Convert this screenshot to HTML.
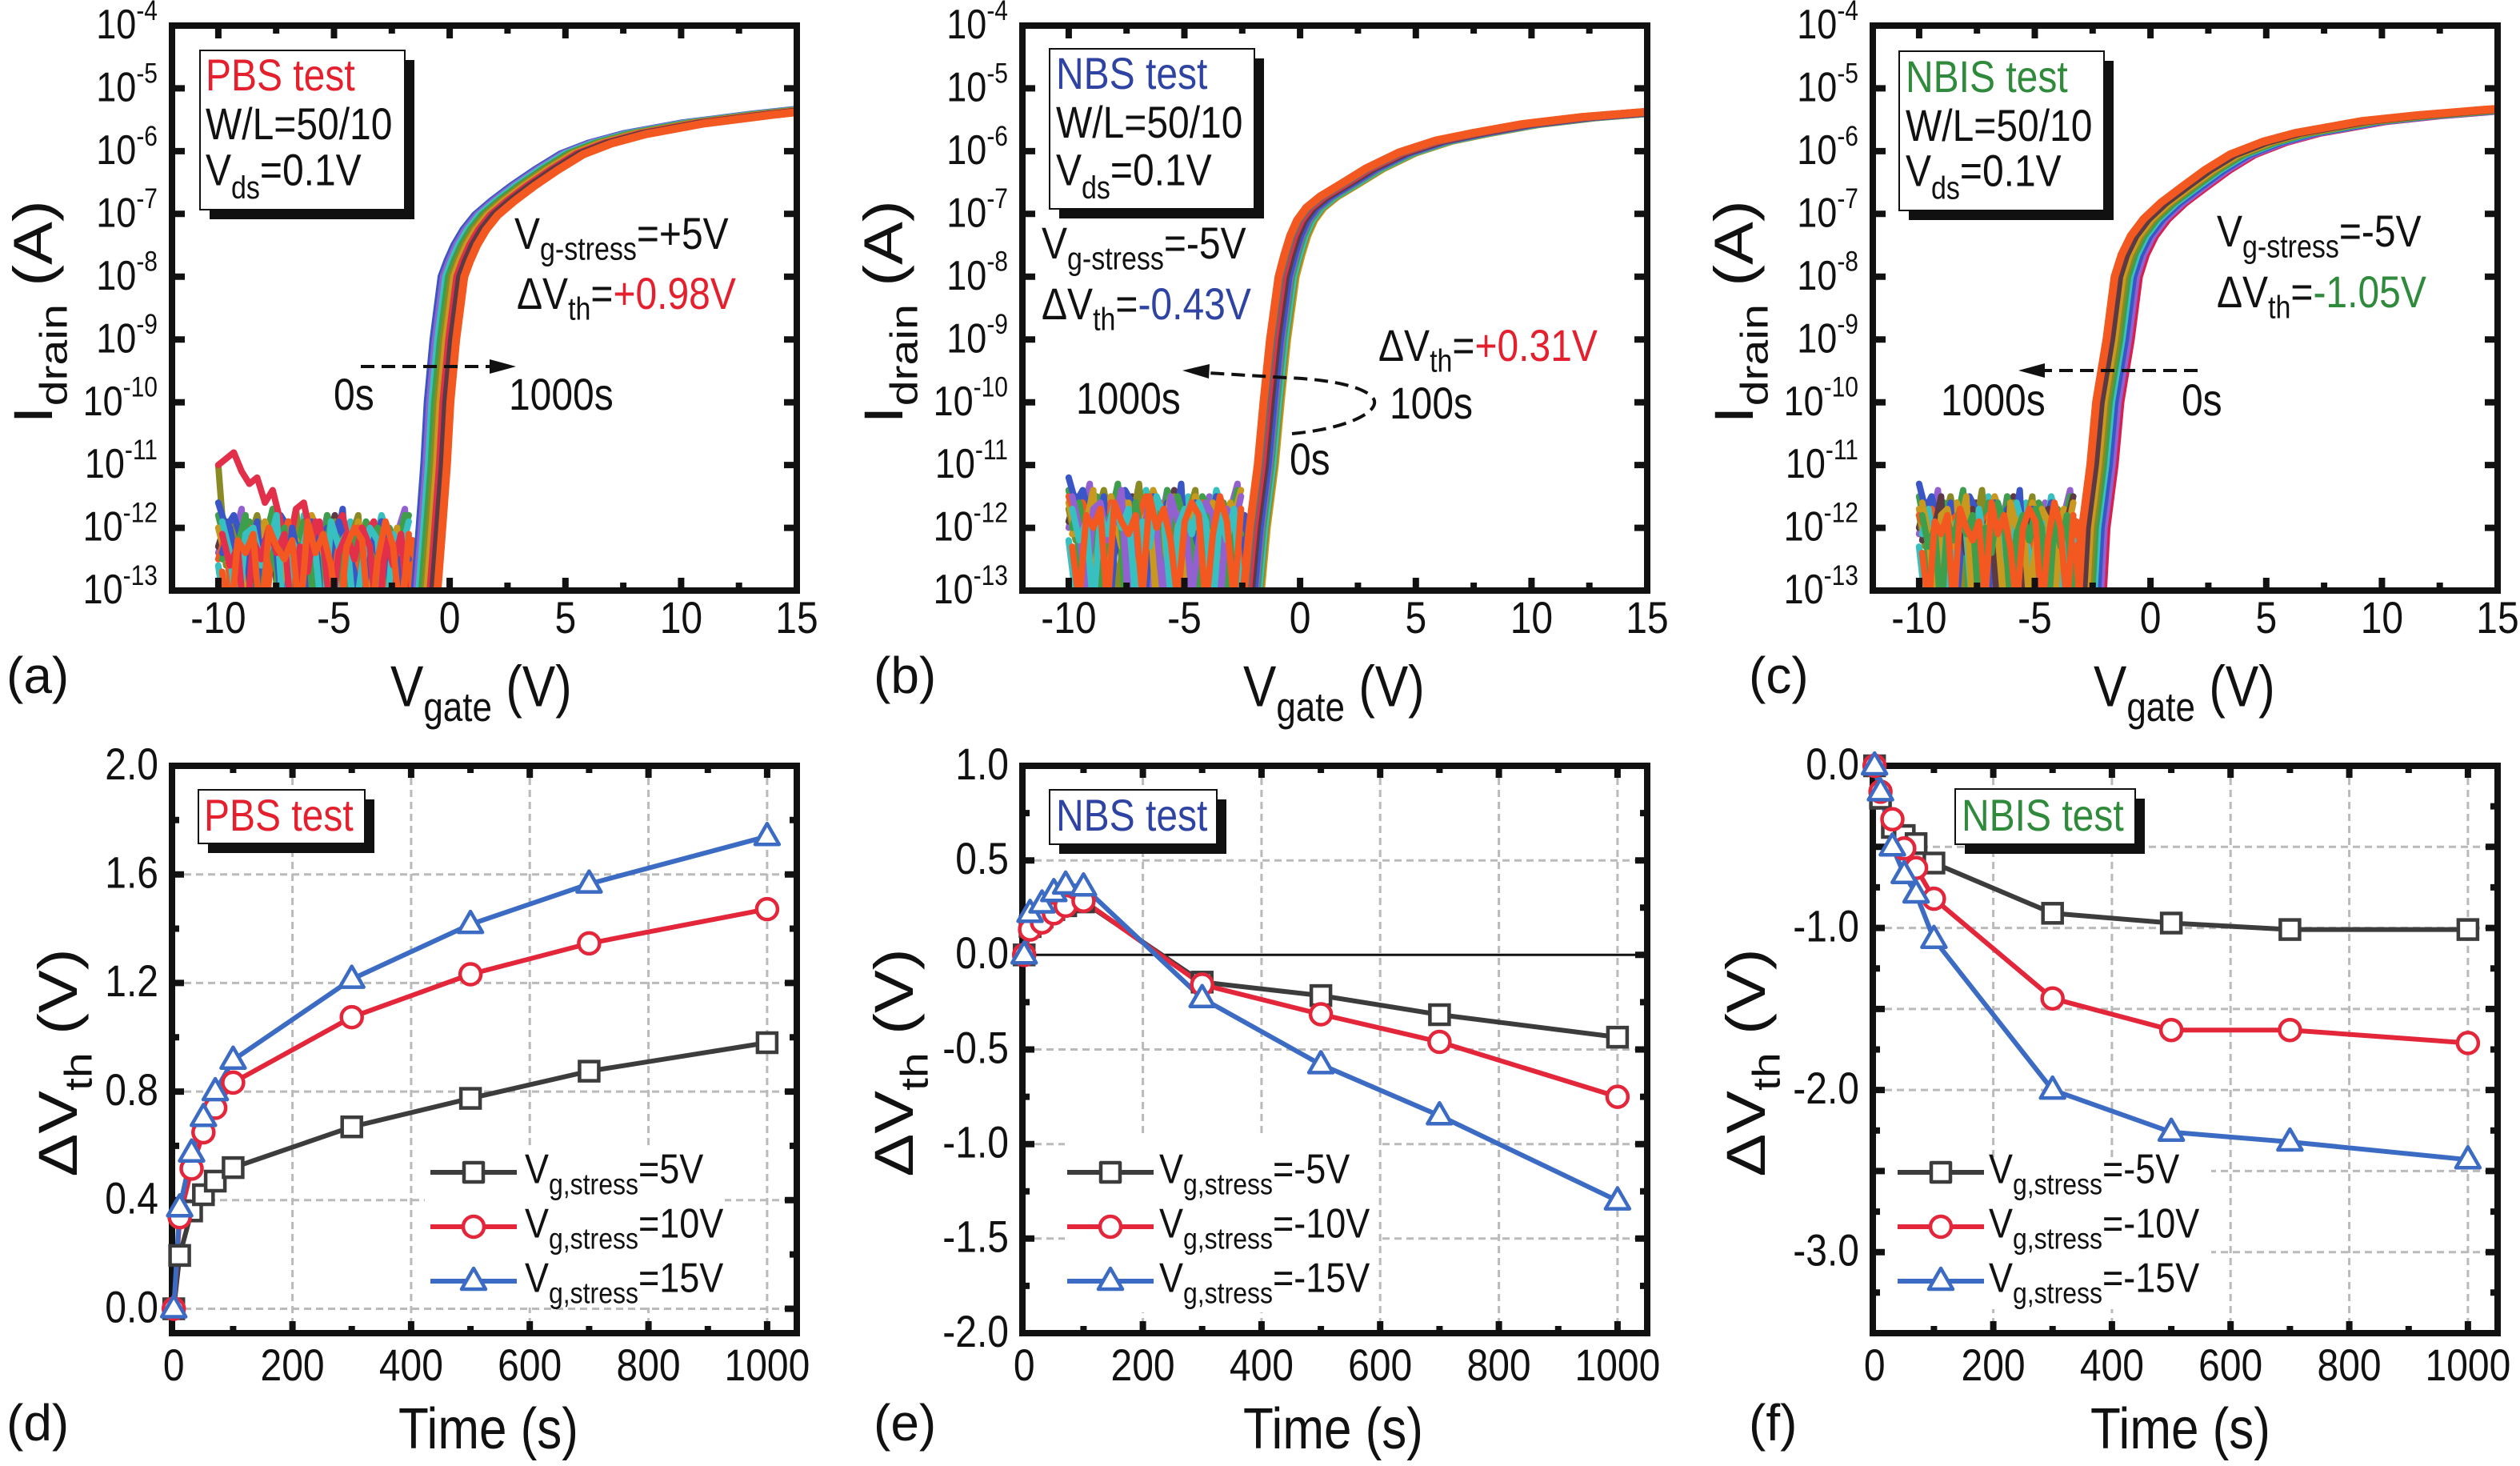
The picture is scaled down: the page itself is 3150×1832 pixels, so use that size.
<!DOCTYPE html>
<html><head><meta charset="utf-8">
<style>
html,body{margin:0;padding:0;background:#fff;}
svg{display:block;}
.d polyline{vector-effect:non-scaling-stroke;}
svg text{transform-box:fill-box;transform-origin:50% 81%;transform:scaleY(1.16);}
svg text.n{transform:none;}
svg text.r{transform-origin:50% 81%;transform:scale(1.3,1.1);}
</style></head>
<body>
<svg width="3150" height="1832" viewBox="0 0 3150 1832" xmlns="http://www.w3.org/2000/svg" font-family="'Liberation Sans', Arial, sans-serif" fill="#111">
<defs>
<clipPath id="ca"><rect x="219" y="36" width="773" height="698"/></clipPath>
<clipPath id="cb"><rect x="1282" y="36" width="773" height="698"/></clipPath>
<clipPath id="cc"><rect x="2345" y="36" width="773" height="698"/></clipPath>
</defs>
<rect width="3150" height="1832" fill="#fff"/>

<!-- ===== TOP ROW DATA ===== -->
<!-- (a) -->
<g clip-path="url(#ca)">
<g class="d" transform="translate(562.1 32) scale(28.926 78.444)" fill="none" stroke-width="8" stroke-linejoin="round" stroke-linecap="round">
 <g transform="translate(-10 0) scale(0.336 1)">
  <polyline stroke="#9361cf" points="0,8.4 1,8.0 2,8.2 3,7.7 4,9.5 5,8.3 6,8.1 7,8.6 8,7.9 9,9.4 10,8.2 11,8.0 12,9.6 13,8.4 14,7.8 15,8.1 16,9.5 17,8.0 18,8.3 19,8.6 20,7.9 21,8.2 22,9.4 23,8.1 24,7.7 25,9.6"/>
  <polyline stroke="#38bfc0" points="0,8.6 1,9.5 2,8.1 3,8.3 4,8.0 5,9.6 6,7.9 7,8.2 8,8.4 9,8.1 10,9.4 11,7.8 12,8.3 13,8.0 14,8.5 15,9.5 16,8.2 17,7.9 18,8.1 19,9.6 20,8.4 21,7.8 22,8.2 23,9.5 24,8.0 25,8.3"/>
  <polyline stroke="#5c3a44" points="0,8.3 1,7.9 2,8.6 3,8.1 4,9.4 5,8.2 6,8.0 7,8.3 8,9.5 9,7.9 10,8.5 11,8.1 12,8.0 13,9.6 14,8.3 15,7.8 16,8.2 17,8.6 18,9.4 19,8.0 20,8.3 21,7.9 22,9.5 23,8.2 24,8.4 25,9.6"/>
  <polyline stroke="#8a8a24" points="0,7.0 1,8.6 2,7.9 3,9.5 4,8.2 5,7.8 6,8.4 7,9.6 8,8.0 9,8.3 10,7.7 11,8.9 12,8.1 13,9.5 14,8.0 15,7.9 16,8.6 17,8.2 18,7.8 19,9.4 20,8.3 21,8.0 22,9.6 23,8.1 24,8.4 25,9.5"/>
  <polyline stroke="#3f9e4b" points="0,7.8 1,8.3 2,9.4 3,8.0 4,7.9 5,8.5 6,8.2 7,7.7 8,9.6 9,8.1 10,8.4 11,7.9 12,8.3 13,9.5 14,7.8 15,8.2 16,8.0 17,9.4 18,8.5 19,7.9 20,8.1 21,9.6 22,8.0 23,8.3 24,7.8 25,9.4"/>
  <polyline stroke="#c9981f" points="0,8.0 1,8.5 2,8.2 3,9.6 4,8.1 5,8.4 6,7.9 7,8.3 8,8.0 9,9.5 10,8.2 11,8.6 12,7.8 13,8.1 14,9.4 15,8.3 16,8.0 17,8.4 18,7.9 19,8.2 20,9.6 21,8.1 22,8.5 23,8.0 24,9.4 25,8.3"/>
  <polyline stroke="#3a55c6" points="0,7.6 1,8.0 2,7.8 3,8.2 4,8.5 5,7.9 6,9.5 7,8.1 8,7.8 9,8.0 10,8.3 11,9.4 12,7.9 13,8.2 14,8.0 15,8.4 16,7.7 17,9.6 18,8.0 19,8.2 20,8.5 21,7.9 22,8.1 23,8.4 24,9.5 25,8.2"/>
  <polyline stroke="#e3304a" points="0,7.0 1,6.9 2,6.8 3,7.1 4,7.3 5,7.2 6,7.6 7,7.4 8,7.9 9,8.4 10,7.7 11,7.6 12,8.2 13,7.9 14,8.7 15,8.0 16,7.8 17,8.4 18,9.5 19,8.1 20,7.9 21,8.6 22,8.2 23,9.4 24,8.3 25,9.6"/>
  <polyline stroke="#f2581f" points="0,8.5 1,8.1 2,9.6 3,8.3 4,8.0 5,8.6 6,9.5 7,8.2 8,8.4 9,7.9 10,9.6 11,8.3 12,8.1 13,8.7 14,9.4 15,8.2 16,8.5 17,9.6 18,8.0 19,8.4 20,8.2 21,9.5 22,8.3 23,8.6 24,9.4 25,8.2"/>
 </g>
 <g transform="translate(-9.832 0.1) scale(0.336 1)">
  <polyline stroke="#3f9e4b" points="0,8.4 1,8.0 2,8.2 3,7.7 4,9.5 5,8.3 6,8.1 7,8.6 8,7.9 9,9.4 10,8.2 11,8.0 12,9.6 13,8.4 14,7.8 15,8.1 16,9.5 17,8.0 18,8.3 19,8.6 20,7.9 21,8.2 22,9.4 23,8.1 24,7.7"/>
  <polyline stroke="#3a55c6" points="0,8.3 1,7.9 2,8.6 3,8.1 4,9.4 5,8.2 6,8.0 7,8.3 8,9.5 9,7.9 10,8.5 11,8.1 12,8.0 13,9.6 14,8.3 15,7.8 16,8.2 17,8.6 18,9.4 19,8.0 20,8.3 21,7.9 22,9.5 23,8.2 24,8.4"/>
  <polyline stroke="#38bfc0" points="0,7.8 1,8.3 2,9.4 3,8.0 4,7.9 5,8.5 6,8.2 7,7.7 8,9.6 9,8.1 10,8.4 11,7.9 12,8.3 13,9.5 14,7.8 15,8.2 16,8.0 17,9.4 18,8.5 19,7.9 20,8.1 21,9.6 22,8.0 23,8.3 24,7.8"/>
  <polyline stroke="#e3304a" points="0,8.0 1,8.5 2,8.2 3,9.6 4,8.1 5,8.4 6,7.9 7,8.3 8,8.0 9,9.5 10,8.2 11,8.6 12,7.8 13,8.1 14,9.4 15,8.3 16,8.0 17,8.4 18,7.9 19,8.2 20,9.6 21,8.1 22,8.5 23,8.0 24,9.4"/>
  <polyline stroke="#f2581f" points="0,8.6 1,9.5 2,8.1 3,8.3 4,8.0 5,9.6 6,7.9 7,8.2 8,8.4 9,8.1 10,9.4 11,7.8 12,8.3 13,8.0 14,8.5 15,9.5 16,8.2 17,7.9 18,8.1 19,9.6 20,8.4 21,7.8 22,8.2 23,9.5 24,8.0"/>
 </g>
 <g stroke-width="10">
 <polyline stroke="#3a55c6" points="-1.6,9.8 -1.55,9.2 -1.3,8 -1.1,7 -0.95,6 -0.7,5 -0.35,4 -0.1,3.75 0.2,3.5 0.6,3.25 1.1,3.02 1.8,2.8 2.7,2.55 3.7,2.3 4.8,2.05 6,1.88 7.5,1.73 10,1.56 13,1.42 15.5,1.32 17,1.28"/>
 <polyline transform="translate(0.1 0)" stroke="#9361cf" points="-1.6,9.8 -1.55,9.2 -1.3,8 -1.1,7 -0.95,6 -0.7,5 -0.35,4 -0.1,3.75 0.2,3.5 0.6,3.25 1.1,3.02 1.8,2.8 2.7,2.55 3.7,2.3 4.8,2.05 6,1.88 7.5,1.73 10,1.56 13,1.42 15.5,1.32 17,1.28"/>
 <polyline transform="translate(0.2 0)" stroke="#38bfc0" points="-1.6,9.8 -1.55,9.2 -1.3,8 -1.1,7 -0.95,6 -0.7,5 -0.35,4 -0.1,3.75 0.2,3.5 0.6,3.25 1.1,3.02 1.8,2.8 2.7,2.55 3.7,2.3 4.8,2.05 6,1.88 7.5,1.73 10,1.56 13,1.42 15.5,1.32 17,1.28"/>
 <polyline transform="translate(0.32 0)" stroke="#3f9e4b" points="-1.6,9.8 -1.55,9.2 -1.3,8 -1.1,7 -0.95,6 -0.7,5 -0.35,4 -0.1,3.75 0.2,3.5 0.6,3.25 1.1,3.02 1.8,2.8 2.7,2.55 3.7,2.3 4.8,2.05 6,1.88 7.5,1.73 10,1.56 13,1.42 15.5,1.32 17,1.28"/>
 <polyline transform="translate(0.45 0)" stroke="#8a8a24" points="-1.6,9.8 -1.55,9.2 -1.3,8 -1.1,7 -0.95,6 -0.7,5 -0.35,4 -0.1,3.75 0.2,3.5 0.6,3.25 1.1,3.02 1.8,2.8 2.7,2.55 3.7,2.3 4.8,2.05 6,1.88 7.5,1.73 10,1.56 13,1.42 15.5,1.32 17,1.28"/>
 <polyline transform="translate(0.55 0)" stroke="#c9981f" points="-1.6,9.8 -1.55,9.2 -1.3,8 -1.1,7 -0.95,6 -0.7,5 -0.35,4 -0.1,3.75 0.2,3.5 0.6,3.25 1.1,3.02 1.8,2.8 2.7,2.55 3.7,2.3 4.8,2.05 6,1.88 7.5,1.73 10,1.56 13,1.42 15.5,1.32 17,1.28"/>
 <polyline transform="translate(0.68 0)" stroke="#e3304a" points="-1.6,9.8 -1.55,9.2 -1.3,8 -1.1,7 -0.95,6 -0.7,5 -0.35,4 -0.1,3.75 0.2,3.5 0.6,3.25 1.1,3.02 1.8,2.8 2.7,2.55 3.7,2.3 4.8,2.05 6,1.88 7.5,1.73 10,1.56 13,1.42 15.5,1.32 17,1.28"/>
 <polyline transform="translate(0.8 0)" stroke="#5c3a44" points="-1.6,9.8 -1.55,9.2 -1.3,8 -1.1,7 -0.95,6 -0.7,5 -0.35,4 -0.1,3.75 0.2,3.5 0.6,3.25 1.1,3.02 1.8,2.8 2.7,2.55 3.7,2.3 4.8,2.05 6,1.88 7.5,1.73 10,1.56 13,1.42 15.5,1.32 17,1.28"/>
 <polyline transform="translate(0.98 0)" stroke="#f2581f" points="-1.6,9.8 -1.55,9.2 -1.3,8 -1.1,7 -0.95,6 -0.7,5 -0.35,4 -0.1,3.75 0.2,3.5 0.6,3.25 1.1,3.02 1.8,2.8 2.7,2.55 3.7,2.3 4.8,2.05 6,1.88 7.5,1.73 10,1.56 13,1.42 15.5,1.32 17,1.28"/>
 </g>
</g></g>

<!-- (b) -->
<g clip-path="url(#cb)">
<g class="d" transform="translate(1625.1 32) scale(28.926 78.444)" fill="none" stroke-width="8" stroke-linejoin="round" stroke-linecap="round">
 <g transform="translate(-10 -0.4) scale(0.304 1)">
  <polyline stroke="#9361cf" points="0,8.4 1,8.0 2,8.2 3,7.7 4,9.5 5,8.3 6,8.1 7,8.6 8,7.9 9,9.4 10,8.2 11,8.0 12,9.6 13,8.4 14,7.8 15,8.1 16,9.5 17,8.0 18,8.3 19,8.6 20,7.9 21,8.2 22,9.4 23,8.1 24,7.7 25,9.6"/>
  <polyline stroke="#38bfc0" points="0,8.6 1,9.5 2,8.1 3,8.3 4,8.0 5,9.6 6,7.9 7,8.2 8,8.4 9,8.1 10,9.4 11,7.8 12,8.3 13,8.0 14,8.5 15,9.5 16,8.2 17,7.9 18,8.1 19,9.6 20,8.4 21,7.8 22,8.2 23,9.5 24,8.0 25,8.3"/>
  <polyline stroke="#5c3a44" points="0,8.3 1,7.9 2,8.6 3,8.1 4,9.4 5,8.2 6,8.0 7,8.3 8,9.5 9,7.9 10,8.5 11,8.1 12,8.0 13,9.6 14,8.3 15,7.8 16,8.2 17,8.6 18,9.4 19,8.0 20,8.3 21,7.9 22,9.5 23,8.2 24,8.4 25,9.6"/>
  <polyline stroke="#8a8a24" points="0,8.1 1,8.6 2,7.9 3,9.5 4,8.2 5,7.8 6,8.4 7,9.6 8,8.0 9,8.3 10,7.7 11,8.9 12,8.1 13,9.5 14,8.0 15,7.9 16,8.6 17,8.2 18,7.8 19,9.4 20,8.3 21,8.0 22,9.6 23,8.1 24,8.4 25,9.5"/>
  <polyline stroke="#3f9e4b" points="0,7.8 1,8.3 2,9.4 3,8.0 4,7.9 5,8.5 6,8.2 7,7.7 8,9.6 9,8.1 10,8.4 11,7.9 12,8.3 13,9.5 14,7.8 15,8.2 16,8.0 17,9.4 18,8.5 19,7.9 20,8.1 21,9.6 22,8.0 23,8.3 24,7.8 25,9.4"/>
  <polyline stroke="#c9981f" points="0,8.0 1,8.5 2,8.2 3,9.6 4,8.1 5,8.4 6,7.9 7,8.3 8,8.0 9,9.5 10,8.2 11,8.6 12,7.8 13,8.1 14,9.4 15,8.3 16,8.0 17,8.4 18,7.9 19,8.2 20,9.6 21,8.1 22,8.5 23,8.0 24,9.4 25,8.3"/>
  <polyline stroke="#3a55c6" points="0,7.6 1,8.0 2,7.8 3,8.2 4,8.5 5,7.9 6,9.5 7,8.1 8,7.8 9,8.0 10,8.3 11,9.4 12,7.9 13,8.2 14,8.0 15,8.4 16,7.7 17,9.6 18,8.0 19,8.2 20,8.5 21,7.9 22,8.1 23,8.4 24,9.5 25,8.2"/>
  <polyline stroke="#f2581f" points="0,7.9 1,8.2 2,8.0 3,8.4 4,8.1 5,9.6 6,8.0 7,8.3 8,8.1 9,9.5 10,8.2 11,7.9 12,8.3 13,8.0 14,9.6 15,8.2 16,8.1 17,8.4 18,9.5 19,8.0 20,8.2 21,8.1 22,9.4 23,8.3 24,8.6 25,9.6"/>
 </g>
 <g transform="translate(-9.848 -0.3) scale(0.304 1)">
  <polyline stroke="#c9981f" points="0,8.4 1,8.0 2,8.2 3,7.7 4,9.5 5,8.3 6,8.1 7,8.6 8,7.9 9,9.4 10,8.2 11,8.0 12,9.6 13,8.4 14,7.8 15,8.1 16,9.5 17,8.0 18,8.3 19,8.6 20,7.9 21,8.2 22,9.4 23,8.1 24,7.7"/>
  <polyline stroke="#3f9e4b" points="0,8.3 1,7.9 2,8.6 3,8.1 4,9.4 5,8.2 6,8.0 7,8.3 8,9.5 9,7.9 10,8.5 11,8.1 12,8.0 13,9.6 14,8.3 15,7.8 16,8.2 17,8.6 18,9.4 19,8.0 20,8.3 21,7.9 22,9.5 23,8.2 24,8.4"/>
  <polyline stroke="#9361cf" points="0,7.8 1,8.3 2,9.4 3,8.0 4,7.9 5,8.5 6,8.2 7,7.7 8,9.6 9,8.1 10,8.4 11,7.9 12,8.3 13,9.5 14,7.8 15,8.2 16,8.0 17,9.4 18,8.5 19,7.9 20,8.1 21,9.6 22,8.0 23,8.3 24,7.8"/>
  <polyline stroke="#38bfc0" points="0,8.0 1,8.5 2,8.2 3,9.6 4,8.1 5,8.4 6,7.9 7,8.3 8,8.0 9,9.5 10,8.2 11,8.6 12,7.8 13,8.1 14,9.4 15,8.3 16,8.0 17,8.4 18,7.9 19,8.2 20,9.6 21,8.1 22,8.5 23,8.0 24,9.4"/>
  <polyline stroke="#f2581f" points="0,8.6 1,9.5 2,8.1 3,8.3 4,8.0 5,9.6 6,7.9 7,8.2 8,8.4 9,8.1 10,9.4 11,7.8 12,8.3 13,8.0 14,8.5 15,9.5 16,8.2 17,7.9 18,8.1 19,9.6 20,8.4 21,7.8 22,8.2 23,9.5 24,8.0"/>
 </g>
 <g stroke-width="10">
 <polyline transform="translate(0.31 0)" stroke="#c9981f" points="-2.3,9.8 -2.2,9.5 -2,9 -1.75,8 -1.4,7 -1.15,6 -0.87,5 -0.5,4 -0.25,3.65 0,3.35 0.3,3.1 0.7,2.9 1.3,2.72 2.2,2.52 3.3,2.27 4.7,2.02 6.3,1.83 7.9,1.71 10,1.57 12.5,1.46 15.5,1.37 17,1.33"/>
 <polyline transform="translate(0.25 0)" stroke="#8a8a24" points="-2.3,9.8 -2.2,9.5 -2,9 -1.75,8 -1.4,7 -1.15,6 -0.87,5 -0.5,4 -0.25,3.65 0,3.35 0.3,3.1 0.7,2.9 1.3,2.72 2.2,2.52 3.3,2.27 4.7,2.02 6.3,1.83 7.9,1.71 10,1.57 12.5,1.46 15.5,1.37 17,1.33"/>
 <polyline transform="translate(0.2 0)" stroke="#38bfc0" points="-2.3,9.8 -2.2,9.5 -2,9 -1.75,8 -1.4,7 -1.15,6 -0.87,5 -0.5,4 -0.25,3.65 0,3.35 0.3,3.1 0.7,2.9 1.3,2.72 2.2,2.52 3.3,2.27 4.7,2.02 6.3,1.83 7.9,1.71 10,1.57 12.5,1.46 15.5,1.37 17,1.33"/>
 <polyline transform="translate(0.12 0)" stroke="#3f9e4b" points="-2.3,9.8 -2.2,9.5 -2,9 -1.75,8 -1.4,7 -1.15,6 -0.87,5 -0.5,4 -0.25,3.65 0,3.35 0.3,3.1 0.7,2.9 1.3,2.72 2.2,2.52 3.3,2.27 4.7,2.02 6.3,1.83 7.9,1.71 10,1.57 12.5,1.46 15.5,1.37 17,1.33"/>
 <polyline transform="translate(0.05 0)" stroke="#9361cf" points="-2.3,9.8 -2.2,9.5 -2,9 -1.75,8 -1.4,7 -1.15,6 -0.87,5 -0.5,4 -0.25,3.65 0,3.35 0.3,3.1 0.7,2.9 1.3,2.72 2.2,2.52 3.3,2.27 4.7,2.02 6.3,1.83 7.9,1.71 10,1.57 12.5,1.46 15.5,1.37 17,1.33"/>
 <polyline stroke="#3a55c6" points="-2.3,9.8 -2.2,9.5 -2,9 -1.75,8 -1.4,7 -1.15,6 -0.87,5 -0.5,4 -0.25,3.65 0,3.35 0.3,3.1 0.7,2.9 1.3,2.72 2.2,2.52 3.3,2.27 4.7,2.02 6.3,1.83 7.9,1.71 10,1.57 12.5,1.46 15.5,1.37 17,1.33"/>
 <polyline transform="translate(-0.12 0)" stroke="#5c3a44" points="-2.3,9.8 -2.2,9.5 -2,9 -1.75,8 -1.4,7 -1.15,6 -0.87,5 -0.5,4 -0.25,3.65 0,3.35 0.3,3.1 0.7,2.9 1.3,2.72 2.2,2.52 3.3,2.27 4.7,2.02 6.3,1.83 7.9,1.71 10,1.57 12.5,1.46 15.5,1.37 17,1.33"/>
 <polyline transform="translate(-0.25 0)" stroke="#e3304a" points="-2.3,9.8 -2.2,9.5 -2,9 -1.75,8 -1.4,7 -1.15,6 -0.87,5 -0.5,4 -0.25,3.65 0,3.35 0.3,3.1 0.7,2.9 1.3,2.72 2.2,2.52 3.3,2.27 4.7,2.02 6.3,1.83 7.9,1.71 10,1.57 12.5,1.46 15.5,1.37 17,1.33"/>
 <polyline transform="translate(-0.35 0)" stroke="#6b6b6b" points="-2.3,9.8 -2.2,9.5 -2,9 -1.75,8 -1.4,7 -1.15,6 -0.87,5 -0.5,4 -0.25,3.65 0,3.35 0.3,3.1 0.7,2.9 1.3,2.72 2.2,2.52 3.3,2.27 4.7,2.02 6.3,1.83 7.9,1.71 10,1.57 12.5,1.46 15.5,1.37 17,1.33"/>
 <polyline transform="translate(-0.43 0)" stroke="#f2581f" points="-2.3,9.8 -2.2,9.5 -2,9 -1.75,8 -1.4,7 -1.15,6 -0.87,5 -0.5,4 -0.25,3.65 0,3.35 0.3,3.1 0.7,2.9 1.3,2.72 2.2,2.52 3.3,2.27 4.7,2.02 6.3,1.83 7.9,1.71 10,1.57 12.5,1.46 15.5,1.37 17,1.33"/>
 </g>
</g></g>

<!-- (c) -->
<g clip-path="url(#cc)">
<g class="d" transform="translate(2688.1 32) scale(28.926 78.444)" fill="none" stroke-width="8" stroke-linejoin="round" stroke-linecap="round">
 <g transform="translate(-10 -0.3) scale(0.272 1)">
  <polyline stroke="#9361cf" points="0,8.4 1,8.0 2,8.2 3,7.7 4,9.5 5,8.3 6,8.1 7,8.6 8,7.9 9,9.4 10,8.2 11,8.0 12,9.6 13,8.4 14,7.8 15,8.1 16,9.5 17,8.0 18,8.3 19,8.6 20,7.9 21,8.2 22,9.4 23,8.1 24,7.7 25,9.6"/>
  <polyline stroke="#38bfc0" points="0,8.6 1,9.5 2,8.1 3,8.3 4,8.0 5,9.6 6,7.9 7,8.2 8,8.4 9,8.1 10,9.4 11,7.8 12,8.3 13,8.0 14,8.5 15,9.5 16,8.2 17,7.9 18,8.1 19,9.6 20,8.4 21,7.8 22,8.2 23,9.5 24,8.0 25,8.3"/>
  <polyline stroke="#5c3a44" points="0,8.3 1,7.9 2,8.6 3,8.1 4,9.4 5,8.2 6,8.0 7,8.3 8,9.5 9,7.9 10,8.5 11,8.1 12,8.0 13,9.6 14,8.3 15,7.8 16,8.2 17,8.6 18,9.4 19,8.0 20,8.3 21,7.9 22,9.5 23,8.2 24,8.4 25,9.6"/>
  <polyline stroke="#8a8a24" points="0,8.1 1,8.6 2,7.9 3,9.5 4,8.2 5,7.8 6,8.4 7,9.6 8,8.0 9,8.3 10,7.7 11,8.9 12,8.1 13,9.5 14,8.0 15,7.9 16,8.6 17,8.2 18,7.8 19,9.4 20,8.3 21,8.0 22,9.6 23,8.1 24,8.4 25,9.5"/>
  <polyline stroke="#3f9e4b" points="0,7.8 1,8.3 2,9.4 3,8.0 4,7.9 5,8.5 6,8.2 7,7.7 8,9.6 9,8.1 10,8.4 11,7.9 12,8.3 13,9.5 14,7.8 15,8.2 16,8.0 17,9.4 18,8.5 19,7.9 20,8.1 21,9.6 22,8.0 23,8.3 24,7.8 25,9.4"/>
  <polyline stroke="#c9981f" points="0,8.0 1,8.5 2,8.2 3,9.6 4,8.1 5,8.4 6,7.9 7,8.3 8,8.0 9,9.5 10,8.2 11,8.6 12,7.8 13,8.1 14,9.4 15,8.3 16,8.0 17,8.4 18,7.9 19,8.2 20,9.6 21,8.1 22,8.5 23,8.0 24,9.4 25,8.3"/>
  <polyline stroke="#3a55c6" points="0,7.6 1,8.0 2,7.8 3,8.2 4,8.5 5,7.9 6,9.5 7,8.1 8,7.8 9,8.0 10,8.3 11,9.4 12,7.9 13,8.2 14,8.0 15,8.4 16,7.7 17,9.6 18,8.0 19,8.2 20,8.5 21,7.9 22,8.1 23,8.4 24,9.5 25,8.2"/>
  <polyline stroke="#f2581f" points="0,8.1 1,8.3 2,8.0 3,8.4 4,9.6 5,8.2 6,8.1 7,8.5 8,8.0 9,9.5 10,8.3 11,8.1 12,8.4 13,9.6 14,8.2 15,8.0 16,8.3 17,9.5 18,8.1 19,8.2 20,8.6 21,9.4 22,8.1 23,8.3 24,9.6 25,8.2"/>
 </g>
 <g transform="translate(-9.864 -0.2) scale(0.272 1)">
  <polyline stroke="#5c3a44" points="0,8.4 1,8.0 2,8.2 3,7.7 4,9.5 5,8.3 6,8.1 7,8.6 8,7.9 9,9.4 10,8.2 11,8.0 12,9.6 13,8.4 14,7.8 15,8.1 16,9.5 17,8.0 18,8.3 19,8.6 20,7.9 21,8.2 22,9.4 23,8.1 24,7.7"/>
  <polyline stroke="#38bfc0" points="0,8.3 1,7.9 2,8.6 3,8.1 4,9.4 5,8.2 6,8.0 7,8.3 8,9.5 9,7.9 10,8.5 11,8.1 12,8.0 13,9.6 14,8.3 15,7.8 16,8.2 17,8.6 18,9.4 19,8.0 20,8.3 21,7.9 22,9.5 23,8.2 24,8.4"/>
  <polyline stroke="#c9981f" points="0,7.8 1,8.3 2,9.4 3,8.0 4,7.9 5,8.5 6,8.2 7,7.7 8,9.6 9,8.1 10,8.4 11,7.9 12,8.3 13,9.5 14,7.8 15,8.2 16,8.0 17,9.4 18,8.5 19,7.9 20,8.1 21,9.6 22,8.0 23,8.3 24,7.8"/>
  <polyline stroke="#3f9e4b" points="0,8.0 1,8.5 2,8.2 3,9.6 4,8.1 5,8.4 6,7.9 7,8.3 8,8.0 9,9.5 10,8.2 11,8.6 12,7.8 13,8.1 14,9.4 15,8.3 16,8.0 17,8.4 18,7.9 19,8.2 20,9.6 21,8.1 22,8.5 23,8.0 24,9.4"/>
  <polyline stroke="#f2581f" points="0,8.6 1,9.5 2,8.1 3,8.3 4,8.0 5,9.6 6,7.9 7,8.2 8,8.4 9,8.1 10,9.4 11,7.8 12,8.3 13,8.0 14,8.5 15,9.5 16,8.2 17,7.9 18,8.1 19,9.6 20,8.4 21,7.8 22,8.2 23,9.5 24,8.0"/>
 </g>
 <g stroke-width="10">
 <polyline stroke="#d82050" points="-2.3,9.8 -2.2,9.5 -2.05,9 -1.9,8 -1.55,7 -1.3,6 -0.85,5 -0.5,4 -0.2,3.65 0.2,3.35 0.75,3.08 1.5,2.82 2.4,2.57 3.4,2.3 4.5,2.05 5.9,1.85 7.3,1.71 10.2,1.52 12.5,1.43 15.5,1.34 17,1.3"/>
 <polyline transform="translate(-0.12 0)" stroke="#9361cf" points="-2.3,9.8 -2.2,9.5 -2.05,9 -1.9,8 -1.55,7 -1.3,6 -0.85,5 -0.5,4 -0.2,3.65 0.2,3.35 0.75,3.08 1.5,2.82 2.4,2.57 3.4,2.3 4.5,2.05 5.9,1.85 7.3,1.71 10.2,1.52 12.5,1.43 15.5,1.34 17,1.3"/>
 <polyline transform="translate(-0.25 0)" stroke="#3a55c6" points="-2.3,9.8 -2.2,9.5 -2.05,9 -1.9,8 -1.55,7 -1.3,6 -0.85,5 -0.5,4 -0.2,3.65 0.2,3.35 0.75,3.08 1.5,2.82 2.4,2.57 3.4,2.3 4.5,2.05 5.9,1.85 7.3,1.71 10.2,1.52 12.5,1.43 15.5,1.34 17,1.3"/>
 <polyline transform="translate(-0.4 0)" stroke="#38bfc0" points="-2.3,9.8 -2.2,9.5 -2.05,9 -1.9,8 -1.55,7 -1.3,6 -0.85,5 -0.5,4 -0.2,3.65 0.2,3.35 0.75,3.08 1.5,2.82 2.4,2.57 3.4,2.3 4.5,2.05 5.9,1.85 7.3,1.71 10.2,1.52 12.5,1.43 15.5,1.34 17,1.3"/>
 <polyline transform="translate(-0.5 0)" stroke="#3f9e4b" points="-2.3,9.8 -2.2,9.5 -2.05,9 -1.9,8 -1.55,7 -1.3,6 -0.85,5 -0.5,4 -0.2,3.65 0.2,3.35 0.75,3.08 1.5,2.82 2.4,2.57 3.4,2.3 4.5,2.05 5.9,1.85 7.3,1.71 10.2,1.52 12.5,1.43 15.5,1.34 17,1.3"/>
 <polyline transform="translate(-0.62 0)" stroke="#8a8a24" points="-2.3,9.8 -2.2,9.5 -2.05,9 -1.9,8 -1.55,7 -1.3,6 -0.85,5 -0.5,4 -0.2,3.65 0.2,3.35 0.75,3.08 1.5,2.82 2.4,2.57 3.4,2.3 4.5,2.05 5.9,1.85 7.3,1.71 10.2,1.52 12.5,1.43 15.5,1.34 17,1.3"/>
 <polyline transform="translate(-0.72 0)" stroke="#c9981f" points="-2.3,9.8 -2.2,9.5 -2.05,9 -1.9,8 -1.55,7 -1.3,6 -0.85,5 -0.5,4 -0.2,3.65 0.2,3.35 0.75,3.08 1.5,2.82 2.4,2.57 3.4,2.3 4.5,2.05 5.9,1.85 7.3,1.71 10.2,1.52 12.5,1.43 15.5,1.34 17,1.3"/>
 <polyline transform="translate(-0.85 0)" stroke="#5c3a44" points="-2.3,9.8 -2.2,9.5 -2.05,9 -1.9,8 -1.55,7 -1.3,6 -0.85,5 -0.5,4 -0.2,3.65 0.2,3.35 0.75,3.08 1.5,2.82 2.4,2.57 3.4,2.3 4.5,2.05 5.9,1.85 7.3,1.71 10.2,1.52 12.5,1.43 15.5,1.34 17,1.3"/>
 <polyline transform="translate(-1.05 0)" stroke="#f2581f" points="-2.3,9.8 -2.2,9.5 -2.05,9 -1.9,8 -1.55,7 -1.3,6 -0.85,5 -0.5,4 -0.2,3.65 0.2,3.35 0.75,3.08 1.5,2.82 2.4,2.57 3.4,2.3 4.5,2.05 5.9,1.85 7.3,1.71 10.2,1.52 12.5,1.43 15.5,1.34 17,1.3"/>
 </g>
</g></g>

<!-- ===== TOP ROW AXES ===== -->
<g>
<rect x="215" y="32" width="781" height="706" fill="none" stroke="#111" stroke-width="8"/>
<path fill="none" stroke="#111" stroke-width="8" d="M272.9 738v-16M417.5 738v-16M562.1 738v-16M706.8 738v-16M851.4 738v-16M272.9 32v16M417.5 32v16M562.1 32v16M706.8 32v16M851.4 32v16M345.2 738v-10M489.8 738v-10M634.4 738v-10M779.1 738v-10M923.7 738v-10M345.2 32v10M489.8 32v10M634.4 32v10M779.1 32v10M923.7 32v10M215 110.4h16M215 188.9h16M215 267.3h16M215 345.8h16M215 424.2h16M215 502.7h16M215 581.1h16M215 659.6h16M996 110.4h-16M996 188.9h-16M996 267.3h-16M996 345.8h-16M996 424.2h-16M996 502.7h-16M996 581.1h-16M996 659.6h-16"/>
<g font-size="45" text-anchor="end">
<text x="197" y="48">10<tspan font-size="30" dy="-20">-4</tspan></text>
<text x="197" y="126.4">10<tspan font-size="30" dy="-20">-5</tspan></text>
<text x="197" y="204.9">10<tspan font-size="30" dy="-20">-6</tspan></text>
<text x="197" y="283.3">10<tspan font-size="30" dy="-20">-7</tspan></text>
<text x="197" y="361.8">10<tspan font-size="30" dy="-20">-8</tspan></text>
<text x="197" y="440.2">10<tspan font-size="30" dy="-20">-9</tspan></text>
<text x="197" y="518.7">10<tspan font-size="30" dy="-20">-10</tspan></text>
<text x="197" y="597.1">10<tspan font-size="30" dy="-20">-11</tspan></text>
<text x="197" y="675.6">10<tspan font-size="30" dy="-20">-12</tspan></text>
<text x="197" y="754">10<tspan font-size="30" dy="-20">-13</tspan></text>
</g>
<g font-size="48" text-anchor="middle">
<text x="272.9" y="791">-10</text><text x="417.5" y="791">-5</text><text x="562.1" y="791">0</text><text x="706.8" y="791">5</text><text x="851.4" y="791">10</text><text x="996" y="791">15</text>
</g>
<text x="488" y="884" font-size="62">V<tspan font-size="44" dy="16">gate</tspan><tspan dy="-16"> (V)</tspan></text>
<g transform="translate(66 390) rotate(-90)"><text class="r" x="0" y="0" text-anchor="middle" font-size="62">I<tspan font-size="44" dy="17">drain</tspan><tspan dy="-17"> (A)</tspan></text></g>
</g>

<g transform="translate(1063 0)">
<rect x="215" y="32" width="781" height="706" fill="none" stroke="#111" stroke-width="8"/>
<path fill="none" stroke="#111" stroke-width="8" d="M272.9 738v-16M417.5 738v-16M562.1 738v-16M706.8 738v-16M851.4 738v-16M272.9 32v16M417.5 32v16M562.1 32v16M706.8 32v16M851.4 32v16M345.2 738v-10M489.8 738v-10M634.4 738v-10M779.1 738v-10M923.7 738v-10M345.2 32v10M489.8 32v10M634.4 32v10M779.1 32v10M923.7 32v10M215 110.4h16M215 188.9h16M215 267.3h16M215 345.8h16M215 424.2h16M215 502.7h16M215 581.1h16M215 659.6h16M996 110.4h-16M996 188.9h-16M996 267.3h-16M996 345.8h-16M996 424.2h-16M996 502.7h-16M996 581.1h-16M996 659.6h-16"/>
<g font-size="45" text-anchor="end">
<text x="197" y="48">10<tspan font-size="30" dy="-20">-4</tspan></text>
<text x="197" y="126.4">10<tspan font-size="30" dy="-20">-5</tspan></text>
<text x="197" y="204.9">10<tspan font-size="30" dy="-20">-6</tspan></text>
<text x="197" y="283.3">10<tspan font-size="30" dy="-20">-7</tspan></text>
<text x="197" y="361.8">10<tspan font-size="30" dy="-20">-8</tspan></text>
<text x="197" y="440.2">10<tspan font-size="30" dy="-20">-9</tspan></text>
<text x="197" y="518.7">10<tspan font-size="30" dy="-20">-10</tspan></text>
<text x="197" y="597.1">10<tspan font-size="30" dy="-20">-11</tspan></text>
<text x="197" y="675.6">10<tspan font-size="30" dy="-20">-12</tspan></text>
<text x="197" y="754">10<tspan font-size="30" dy="-20">-13</tspan></text>
</g>
<g font-size="48" text-anchor="middle">
<text x="272.9" y="791">-10</text><text x="417.5" y="791">-5</text><text x="562.1" y="791">0</text><text x="706.8" y="791">5</text><text x="851.4" y="791">10</text><text x="996" y="791">15</text>
</g>
<text x="491" y="884" font-size="62">V<tspan font-size="44" dy="16">gate</tspan><tspan dy="-16"> (V)</tspan></text>
<g transform="translate(66 390) rotate(-90)"><text class="r" x="0" y="0" text-anchor="middle" font-size="62">I<tspan font-size="44" dy="17">drain</tspan><tspan dy="-17"> (A)</tspan></text></g>
</g>

<g transform="translate(2126 0)">
<rect x="215" y="32" width="781" height="706" fill="none" stroke="#111" stroke-width="8"/>
<path fill="none" stroke="#111" stroke-width="8" d="M272.9 738v-16M417.5 738v-16M562.1 738v-16M706.8 738v-16M851.4 738v-16M272.9 32v16M417.5 32v16M562.1 32v16M706.8 32v16M851.4 32v16M345.2 738v-10M489.8 738v-10M634.4 738v-10M779.1 738v-10M923.7 738v-10M345.2 32v10M489.8 32v10M634.4 32v10M779.1 32v10M923.7 32v10M215 110.4h16M215 188.9h16M215 267.3h16M215 345.8h16M215 424.2h16M215 502.7h16M215 581.1h16M215 659.6h16M996 110.4h-16M996 188.9h-16M996 267.3h-16M996 345.8h-16M996 424.2h-16M996 502.7h-16M996 581.1h-16M996 659.6h-16"/>
<g font-size="45" text-anchor="end">
<text x="197" y="48">10<tspan font-size="30" dy="-20">-4</tspan></text>
<text x="197" y="126.4">10<tspan font-size="30" dy="-20">-5</tspan></text>
<text x="197" y="204.9">10<tspan font-size="30" dy="-20">-6</tspan></text>
<text x="197" y="283.3">10<tspan font-size="30" dy="-20">-7</tspan></text>
<text x="197" y="361.8">10<tspan font-size="30" dy="-20">-8</tspan></text>
<text x="197" y="440.2">10<tspan font-size="30" dy="-20">-9</tspan></text>
<text x="197" y="518.7">10<tspan font-size="30" dy="-20">-10</tspan></text>
<text x="197" y="597.1">10<tspan font-size="30" dy="-20">-11</tspan></text>
<text x="197" y="675.6">10<tspan font-size="30" dy="-20">-12</tspan></text>
<text x="197" y="754">10<tspan font-size="30" dy="-20">-13</tspan></text>
</g>
<g font-size="48" text-anchor="middle">
<text x="272.9" y="791">-10</text><text x="417.5" y="791">-5</text><text x="562.1" y="791">0</text><text x="706.8" y="791">5</text><text x="851.4" y="791">10</text><text x="996" y="791">15</text>
</g>
<text x="491" y="884" font-size="62">V<tspan font-size="44" dy="16">gate</tspan><tspan dy="-16"> (V)</tspan></text>
<g transform="translate(66 390) rotate(-90)"><text class="r" x="0" y="0" text-anchor="middle" font-size="62">I<tspan font-size="44" dy="17">drain</tspan><tspan dy="-17"> (A)</tspan></text></g>
</g>

<!-- Top annotations -->
<rect x="262" y="75" width="256" height="199" fill="#111"/>
<rect x="250" y="63" width="256" height="199" fill="#fff" stroke="#111" stroke-width="2"/>
<text x="257" y="113" font-size="48" fill="#e5202e">PBS test</text>
<text x="257" y="174" font-size="48">W/L=50/10</text>
<text x="257" y="233" font-size="48">V<tspan font-size="34" dy="14">ds</tspan><tspan dy="-14">=0.1V</tspan></text>
<text x="643" y="312" font-size="48">V<tspan font-size="34" dy="12">g-stress</tspan><tspan dy="-12">=+5V</tspan></text>
<text x="646" y="387" font-size="48">ΔV<tspan font-size="34" dy="12">th</tspan><tspan dy="-12">=</tspan><tspan fill="#e5202e">+0.98V</tspan></text>
<path d="M451 458H615" stroke="#111" stroke-width="4" stroke-dasharray="17 9" fill="none"/>
<path d="M645 458L612 449V467Z" fill="#111"/>
<text x="417" y="512" font-size="48">0s</text>
<text x="636" y="512" font-size="48">1000s</text>

<rect x="1324" y="73" width="256" height="200" fill="#111"/>
<rect x="1312" y="61" width="256" height="200" fill="#fff" stroke="#111" stroke-width="2"/>
<text x="1320" y="111" font-size="48" fill="#2f43a3">NBS test</text>
<text x="1320" y="172" font-size="48">W/L=50/10</text>
<text x="1320" y="233" font-size="48">V<tspan font-size="34" dy="14">ds</tspan><tspan dy="-14">=0.1V</tspan></text>
<text x="1302" y="324" font-size="48">V<tspan font-size="34" dy="12">g-stress</tspan><tspan dy="-12">=-5V</tspan></text>
<text x="1302" y="400" font-size="48">ΔV<tspan font-size="34" dy="12">th</tspan><tspan dy="-12">=</tspan><tspan fill="#2f43a3">-0.43V</tspan></text>
<text x="1723" y="452" font-size="48">ΔV<tspan font-size="34" dy="12">th</tspan><tspan dy="-12">=</tspan><tspan fill="#e5202e">+0.31V</tspan></text>
<path d="M1615 542C1690 535 1728 512 1716 497C1703 482 1660 474 1608 472L1510 466" stroke="#111" stroke-width="4" stroke-dasharray="17 9" fill="none"/>
<path d="M1478 463L1512 455L1511 473Z" fill="#111"/>
<text x="1345" y="517" font-size="48">1000s</text>
<text x="1737" y="523" font-size="48">100s</text>
<text x="1612" y="593" font-size="48">0s</text>

<rect x="2386" y="76" width="256" height="199" fill="#111"/>
<rect x="2374" y="64" width="256" height="199" fill="#fff" stroke="#111" stroke-width="2"/>
<text x="2382" y="115" font-size="48" fill="#2f8a3c">NBIS test</text>
<text x="2382" y="176" font-size="48">W/L=50/10</text>
<text x="2382" y="234" font-size="48">V<tspan font-size="34" dy="14">ds</tspan><tspan dy="-14">=0.1V</tspan></text>
<text x="2771" y="309" font-size="48">V<tspan font-size="34" dy="12">g-stress</tspan><tspan dy="-12">=-5V</tspan></text>
<text x="2771" y="385" font-size="48">ΔV<tspan font-size="34" dy="12">th</tspan><tspan dy="-12">=</tspan><tspan fill="#2f8a3c">-1.05V</tspan></text>
<path d="M2747 463H2554" stroke="#111" stroke-width="4" stroke-dasharray="17 9" fill="none"/>
<path d="M2523 463L2556 454V472Z" fill="#111"/>
<text x="2426" y="519" font-size="48">1000s</text>
<text x="2727" y="519" font-size="48">0s</text>

<g font-size="64">
<text class="n" x="8" y="866">(a)</text>
<text class="n" x="1092" y="866">(b)</text>
<text class="n" x="2186" y="866">(c)</text>
<text class="n" x="8" y="1800">(d)</text>
<text class="n" x="1092" y="1800">(e)</text>
<text class="n" x="2186" y="1800">(f)</text>
</g>

<!-- ===== BOTTOM ROW ===== -->
<g stroke="#bababa" stroke-width="3" stroke-dasharray="9 6" fill="none">
<path d="M365.6 957V1666M513.9 957V1666M662.2 957V1666M810.6 957V1666M958.9 957V1666M215 1635.5H996M215 1499.8H996M215 1364.1H996M215 1228.4H996M215 1092.7H996"/>
<path d="M1428.6 957V1666M1576.9 957V1666M1725.2 957V1666M1873.6 957V1666M2021.9 957V1666M1278 1075.2H2059M1278 1311.5H2059M1278 1429.7H2059M1278 1547.8H2059"/>
<path d="M2491.6 957V1666M2639.9 957V1666M2788.2 957V1666M2936.6 957V1666M3084.9 957V1666M2341 1058.3H3122M2341 1159.6H3122M2341 1260.9H3122M2341 1362.1H3122M2341 1463.4H3122M2341 1564.7H3122"/>
</g>
<rect x="531" y="1436" width="375" height="198" fill="#fff"/>
<rect x="1331" y="1422" width="391" height="218" fill="#fff"/>
<rect x="2349" y="1452" width="415" height="184" fill="#fff"/>
<rect x="260" y="999" width="208" height="67" fill="#111"/>
<rect x="248" y="987" width="208" height="67" fill="#fff" stroke="#111" stroke-width="2"/>
<text x="255" y="1038" font-size="48" fill="#e5202e">PBS test</text>
<rect x="1324" y="999" width="209" height="68" fill="#111"/>
<rect x="1312" y="987" width="209" height="68" fill="#fff" stroke="#111" stroke-width="2"/>
<text x="1320" y="1038" font-size="48" fill="#2f43a3">NBS test</text>
<rect x="2456" y="998" width="225" height="69" fill="#111"/>
<rect x="2444" y="986" width="225" height="69" fill="#fff" stroke="#111" stroke-width="2"/>
<text x="2452" y="1038" font-size="48" fill="#2f8a3c">NBIS test</text>
<path d="M1278 1193.3H2059" stroke="#111" stroke-width="3"/>

<g>
<rect x="215" y="957" width="781" height="709" fill="none" stroke="#111" stroke-width="8"/>
<path fill="none" stroke="#111" stroke-width="8" d="M365.6 1666v-15M513.9 1666v-15M662.2 1666v-15M810.6 1666v-15M958.9 1666v-15M365.6 957v15M513.9 957v15M662.2 957v15M810.6 957v15M958.9 957v15M291.4 1666v-9M439.7 1666v-9M588.1 1666v-9M736.4 1666v-9M884.8 1666v-9M291.4 957v9M439.7 957v9M588.1 957v9M736.4 957v9M884.8 957v9"/>
<g font-size="48" text-anchor="middle">
<text x="217.2" y="1725">0</text><text x="365.6" y="1725">200</text><text x="513.9" y="1725">400</text><text x="662.2" y="1725">600</text><text x="810.6" y="1725">800</text><text x="958.9" y="1725">1000</text>
</g>
</g>
<g transform="translate(1063 0)">
<rect x="215" y="957" width="781" height="709" fill="none" stroke="#111" stroke-width="8"/>
<path fill="none" stroke="#111" stroke-width="8" d="M365.6 1666v-15M513.9 1666v-15M662.2 1666v-15M810.6 1666v-15M958.9 1666v-15M365.6 957v15M513.9 957v15M662.2 957v15M810.6 957v15M958.9 957v15M291.4 1666v-9M439.7 1666v-9M588.1 1666v-9M736.4 1666v-9M884.8 1666v-9M291.4 957v9M439.7 957v9M588.1 957v9M736.4 957v9M884.8 957v9"/>
<g font-size="48" text-anchor="middle">
<text x="217.2" y="1725">0</text><text x="365.6" y="1725">200</text><text x="513.9" y="1725">400</text><text x="662.2" y="1725">600</text><text x="810.6" y="1725">800</text><text x="958.9" y="1725">1000</text>
</g>
</g>
<g transform="translate(2126 0)">
<rect x="215" y="957" width="781" height="709" fill="none" stroke="#111" stroke-width="8"/>
<path fill="none" stroke="#111" stroke-width="8" d="M365.6 1666v-15M513.9 1666v-15M662.2 1666v-15M810.6 1666v-15M958.9 1666v-15M365.6 957v15M513.9 957v15M662.2 957v15M810.6 957v15M958.9 957v15M291.4 1666v-9M439.7 1666v-9M588.1 1666v-9M736.4 1666v-9M884.8 1666v-9M291.4 957v9M439.7 957v9M588.1 957v9M736.4 957v9M884.8 957v9"/>
<g font-size="48" text-anchor="middle">
<text x="217.2" y="1725">0</text><text x="365.6" y="1725">200</text><text x="513.9" y="1725">400</text><text x="662.2" y="1725">600</text><text x="810.6" y="1725">800</text><text x="958.9" y="1725">1000</text>
</g>
</g>

<path fill="none" stroke="#111" stroke-width="8" d="M215 1499.8h15M215 1364.1h15M215 1228.4h15M215 1092.7h15M215 1635.5h15M996 1499.8h-15M996 1364.1h-15M996 1228.4h-15M996 1092.7h-15M996 1635.5h-15M215 1567.6h9M215 1431.9h9M215 1296.2h9M215 1160.5h9M215 1024.8h9M996 1567.6h-9M996 1431.9h-9M996 1296.2h-9M996 1160.5h-9M996 1024.8h-9"/>
<path fill="none" stroke="#111" stroke-width="8" d="M1278 1075.2h15M1278 1193.3h15M1278 1311.5h15M1278 1429.7h15M1278 1547.8h15M2059 1075.2h-15M2059 1193.3h-15M2059 1311.5h-15M2059 1429.7h-15M2059 1547.8h-15M1278 1016.1h9M1278 1134.2h9M1278 1252.4h9M1278 1370.6h9M1278 1488.7h9M1278 1606.9h9M2059 1016.1h-9M2059 1134.2h-9M2059 1252.4h-9M2059 1370.6h-9M2059 1488.7h-9M2059 1606.9h-9"/>
<path fill="none" stroke="#111" stroke-width="8" d="M2341 1058.3h15M2341 1159.6h15M2341 1260.9h15M2341 1362.1h15M2341 1463.4h15M2341 1564.7h15M3122 1058.3h-15M3122 1159.6h-15M3122 1260.9h-15M3122 1362.1h-15M3122 1463.4h-15M3122 1564.7h-15M2341 1007.6h9M2341 1108.9h9M2341 1210.2h9M2341 1311.5h9M2341 1412.8h9M2341 1514.1h9M2341 1615.3h9M3122 1007.6h-9M3122 1108.9h-9M3122 1210.2h-9M3122 1311.5h-9M3122 1412.8h-9M3122 1514.1h-9M3122 1615.3h-9"/>

<g font-size="48" text-anchor="end">
<text x="198" y="1652.5">0.0</text><text x="198" y="1516.8">0.4</text><text x="198" y="1381.1">0.8</text><text x="198" y="1245.4">1.2</text><text x="198" y="1109.7">1.6</text><text x="198" y="974">2.0</text>
<text x="1261" y="974">1.0</text><text x="1261" y="1092.2">0.5</text><text x="1261" y="1210.3">0.0</text><text x="1261" y="1328.5">-0.5</text><text x="1261" y="1446.7">-1.0</text><text x="1261" y="1564.8">-1.5</text><text x="1261" y="1683">-2.0</text>
<text x="2324" y="974">0.0</text><text x="2324" y="1176.6">-1.0</text><text x="2324" y="1379.1">-2.0</text><text x="2324" y="1581.7">-3.0</text>
</g>

<g font-size="62">
<text x="498" y="1810">Time (s)</text>
<text x="1554" y="1810">Time (s)</text>
<text x="2613" y="1810">Time (s)</text>
</g>
<g transform="translate(97 1328) rotate(-90)"><text class="r" x="0" y="0" text-anchor="middle" font-size="62">ΔV<tspan font-size="44" dy="17">th</tspan><tspan dy="-17"> (V)</tspan></text></g>
<g transform="translate(1142 1328) rotate(-90)"><text class="r" x="0" y="0" text-anchor="middle" font-size="62">ΔV<tspan font-size="44" dy="17">th</tspan><tspan dy="-17"> (V)</tspan></text></g>
<g transform="translate(2207 1328) rotate(-90)"><text class="r" x="0" y="0" text-anchor="middle" font-size="62">ΔV<tspan font-size="44" dy="17">th</tspan><tspan dy="-17"> (V)</tspan></text></g>

<!-- ===== SERIES (d) ===== -->
<g fill="none" stroke-width="6" stroke-linejoin="round">
<polyline stroke="#3c3c3c" points="217.2,1635.5 224.6,1568.9 239.5,1513.3 254.3,1493 269.1,1476 291.4,1459.1 439.7,1408.2 588.1,1372.6 736.4,1338.6 958.9,1303"/>
<polyline stroke="#e3263a" points="217.2,1635.5 224.6,1521.1 239.5,1460.4 254.3,1415 269.1,1384.4 291.4,1352.9 439.7,1271.1 588.1,1217.5 736.4,1178.9 958.9,1136.1"/>
<polyline stroke="#3c6bc4" points="217.2,1635.5 224.6,1509.3 239.5,1440.7 254.3,1396.3 269.1,1364.1 291.4,1324.7 439.7,1223.6 588.1,1155.1 736.4,1104.6 958.9,1045.2"/>
</g>
<g fill="#fff" stroke="#3c3c3c" stroke-width="4.5">
<rect x="205.2" y="1623.5" width="24" height="24"/><rect x="212.6" y="1556.9" width="24" height="24"/><rect x="227.5" y="1501.3" width="24" height="24"/><rect x="242.3" y="1481" width="24" height="24"/><rect x="257.1" y="1464" width="24" height="24"/><rect x="279.4" y="1447.1" width="24" height="24"/><rect x="427.7" y="1396.2" width="24" height="24"/><rect x="576.1" y="1360.6" width="24" height="24"/><rect x="724.4" y="1326.6" width="24" height="24"/><rect x="946.9" y="1291" width="24" height="24"/>
</g>
<g fill="#fff" stroke="#e3263a" stroke-width="4.5">
<circle cx="217.2" cy="1635.5" r="13"/><circle cx="224.6" cy="1521.1" r="13"/><circle cx="239.5" cy="1460.4" r="13"/><circle cx="254.3" cy="1415" r="13"/><circle cx="269.1" cy="1384.4" r="13"/><circle cx="291.4" cy="1352.9" r="13"/><circle cx="439.7" cy="1271.1" r="13"/><circle cx="588.1" cy="1217.5" r="13"/><circle cx="736.4" cy="1178.9" r="13"/><circle cx="958.9" cy="1136.1" r="13"/>
</g>
<g fill="#fff" stroke="#3c6bc4" stroke-width="4.5" stroke-linejoin="round" transform="translate(0 -2)">
<path d="M217.2 1621.5l15 26h-30z"/><path d="M224.6 1495.3l15 26h-30z"/><path d="M239.5 1426.7l15 26h-30z"/><path d="M254.3 1382.3l15 26h-30z"/><path d="M269.1 1350.1l15 26h-30z"/><path d="M291.4 1310.7l15 26h-30z"/><path d="M439.7 1209.6l15 26h-30z"/><path d="M588.1 1141.1l15 26h-30z"/><path d="M736.4 1090.6l15 26h-30z"/><path d="M958.9 1031.2l15 26h-30z"/>
</g>

<!-- ===== SERIES (e) ===== -->
<g fill="none" stroke-width="6" stroke-linejoin="round">
<polyline stroke="#3c3c3c" points="1280.2,1193.3 1287.6,1157.9 1302.5,1146 1317.3,1136.6 1332.1,1131.9 1354.4,1127.1 1502.7,1227.3 1651.1,1244.1 1799.4,1268 2021.9,1296.1"/>
<polyline stroke="#e3263a" points="1280.2,1193.3 1287.6,1161.6 1302.5,1152.7 1317.3,1141.3 1332.1,1131.9 1354.4,1125.7 1502.7,1230.4 1651.1,1267.5 1799.4,1302 2021.9,1370.6"/>
<polyline stroke="#3c6bc4" points="1280.2,1193.3 1287.6,1141.3 1302.5,1129.5 1317.3,1115.3 1332.1,1105.9 1354.4,1108.2 1502.7,1247.7 1651.1,1330.4 1799.4,1394.2 2021.9,1500.6"/>
</g>
<g fill="#fff" stroke="#3c3c3c" stroke-width="4.5">
<rect x="1268.2" y="1181.3" width="24" height="24"/><rect x="1275.6" y="1145.9" width="24" height="24"/><rect x="1290.5" y="1134" width="24" height="24"/><rect x="1305.3" y="1124.6" width="24" height="24"/><rect x="1320.1" y="1119.9" width="24" height="24"/><rect x="1342.4" y="1115.1" width="24" height="24"/><rect x="1490.7" y="1215.3" width="24" height="24"/><rect x="1639.1" y="1232.1" width="24" height="24"/><rect x="1787.4" y="1256" width="24" height="24"/><rect x="2009.9" y="1284.1" width="24" height="24"/>
</g>
<g fill="#fff" stroke="#e3263a" stroke-width="4.5">
<circle cx="1280.2" cy="1193.3" r="13"/><circle cx="1287.6" cy="1161.6" r="13"/><circle cx="1302.5" cy="1152.7" r="13"/><circle cx="1317.3" cy="1141.3" r="13"/><circle cx="1332.1" cy="1131.9" r="13"/><circle cx="1354.4" cy="1125.7" r="13"/><circle cx="1502.7" cy="1230.4" r="13"/><circle cx="1651.1" cy="1267.5" r="13"/><circle cx="1799.4" cy="1302" r="13"/><circle cx="2021.9" cy="1370.6" r="13"/>
</g>
<g fill="#fff" stroke="#3c6bc4" stroke-width="4.5" stroke-linejoin="round" transform="translate(0 -2)">
<path d="M1280.2 1179.3l15 26h-30z"/><path d="M1287.6 1127.3l15 26h-30z"/><path d="M1302.5 1115.5l15 26h-30z"/><path d="M1317.3 1101.3l15 26h-30z"/><path d="M1332.1 1091.9l15 26h-30z"/><path d="M1354.4 1094.2l15 26h-30z"/><path d="M1502.7 1233.7l15 26h-30z"/><path d="M1651.1 1316.4l15 26h-30z"/><path d="M1799.4 1380.2l15 26h-30z"/><path d="M2021.9 1486.6l15 26h-30z"/>
</g>

<!-- ===== SERIES (f) ===== -->
<g fill="none" stroke-width="6" stroke-linejoin="round">
<polyline stroke="#3c3c3c" points="2343.2,957 2350.6,997.5 2365.5,1034 2380.3,1044.1 2395.1,1054.2 2417.4,1078.5 2565.7,1141.3 2714.1,1153.5 2862.4,1161.6 3084.9,1161.6"/>
<polyline stroke="#e3263a" points="2343.2,957 2350.6,989.4 2365.5,1023.8 2380.3,1060.3 2395.1,1084.6 2417.4,1123.1 2565.7,1247.7 2714.1,1287.2 2862.4,1287.2 3084.9,1303.4"/>
<polyline stroke="#3c6bc4" points="2343.2,957 2350.6,989.4 2365.5,1058.3 2380.3,1092.7 2395.1,1117 2417.4,1173.8 2565.7,1362.1 2714.1,1414.8 2862.4,1427 3084.9,1449.2"/>
</g>
<g fill="#fff" stroke="#3c3c3c" stroke-width="4.5">
<rect x="2331.2" y="945" width="24" height="24"/><rect x="2338.6" y="985.5" width="24" height="24"/><rect x="2353.5" y="1022" width="24" height="24"/><rect x="2368.3" y="1032.1" width="24" height="24"/><rect x="2383.1" y="1042.2" width="24" height="24"/><rect x="2405.4" y="1066.5" width="24" height="24"/><rect x="2553.7" y="1129.3" width="24" height="24"/><rect x="2702.1" y="1141.5" width="24" height="24"/><rect x="2850.4" y="1149.6" width="24" height="24"/><rect x="3072.9" y="1149.6" width="24" height="24"/>
</g>
<g fill="#fff" stroke="#e3263a" stroke-width="4.5">
<circle cx="2343.2" cy="957" r="13"/><circle cx="2350.6" cy="989.4" r="13"/><circle cx="2365.5" cy="1023.8" r="13"/><circle cx="2380.3" cy="1060.3" r="13"/><circle cx="2395.1" cy="1084.6" r="13"/><circle cx="2417.4" cy="1123.1" r="13"/><circle cx="2565.7" cy="1247.7" r="13"/><circle cx="2714.1" cy="1287.2" r="13"/><circle cx="2862.4" cy="1287.2" r="13"/><circle cx="3084.9" cy="1303.4" r="13"/>
</g>
<g fill="#fff" stroke="#3c6bc4" stroke-width="4.5" stroke-linejoin="round" transform="translate(0 -2)">
<path d="M2343.2 943l15 26h-30z"/><path d="M2350.6 975.4l15 26h-30z"/><path d="M2365.5 1044.3l15 26h-30z"/><path d="M2380.3 1078.7l15 26h-30z"/><path d="M2395.1 1103l15 26h-30z"/><path d="M2417.4 1159.8l15 26h-30z"/><path d="M2565.7 1348.1l15 26h-30z"/><path d="M2714.1 1400.8l15 26h-30z"/><path d="M2862.4 1413l15 26h-30z"/><path d="M3084.9 1435.2l15 26h-30z"/>
</g>

<!-- ===== LEGENDS ===== -->
<g stroke-width="6">
<path d="M538 1465H646" stroke="#3c3c3c"/><path d="M538 1533H646" stroke="#e3263a"/><path d="M538 1601H646" stroke="#3c6bc4"/>
<path d="M1334 1465H1442" stroke="#3c3c3c"/><path d="M1334 1533H1442" stroke="#e3263a"/><path d="M1334 1601H1442" stroke="#3c6bc4"/>
<path d="M2372 1465H2480" stroke="#3c3c3c"/><path d="M2372 1533H2480" stroke="#e3263a"/><path d="M2372 1601H2480" stroke="#3c6bc4"/>
</g>
<g fill="#fff" stroke-width="4.5" stroke-linejoin="round">
<rect x="580" y="1453" width="24" height="24" stroke="#3c3c3c"/><circle cx="592" cy="1533" r="13" stroke="#e3263a"/><path d="M592 1585l15 26h-30z" stroke="#3c6bc4"/>
<rect x="1376" y="1453" width="24" height="24" stroke="#3c3c3c"/><circle cx="1388" cy="1533" r="13" stroke="#e3263a"/><path d="M1388 1585l15 26h-30z" stroke="#3c6bc4"/>
<rect x="2414" y="1453" width="24" height="24" stroke="#3c3c3c"/><circle cx="2426" cy="1533" r="13" stroke="#e3263a"/><path d="M2426 1585l15 26h-30z" stroke="#3c6bc4"/>
</g>
<g font-size="45">
<text x="656" y="1480">V<tspan font-size="32" dy="12">g,stress</tspan><tspan dy="-12">=5V</tspan></text>
<text x="656" y="1548">V<tspan font-size="32" dy="12">g,stress</tspan><tspan dy="-12">=10V</tspan></text>
<text x="656" y="1616">V<tspan font-size="32" dy="12">g,stress</tspan><tspan dy="-12">=15V</tspan></text>
<text x="1449" y="1480">V<tspan font-size="32" dy="12">g,stress</tspan><tspan dy="-12">=-5V</tspan></text>
<text x="1449" y="1548">V<tspan font-size="32" dy="12">g,stress</tspan><tspan dy="-12">=-10V</tspan></text>
<text x="1449" y="1616">V<tspan font-size="32" dy="12">g,stress</tspan><tspan dy="-12">=-15V</tspan></text>
<text x="2486" y="1480">V<tspan font-size="32" dy="12">g,stress</tspan><tspan dy="-12">=-5V</tspan></text>
<text x="2486" y="1548">V<tspan font-size="32" dy="12">g,stress</tspan><tspan dy="-12">=-10V</tspan></text>
<text x="2486" y="1616">V<tspan font-size="32" dy="12">g,stress</tspan><tspan dy="-12">=-15V</tspan></text>
</g>
</svg>
</body></html>
